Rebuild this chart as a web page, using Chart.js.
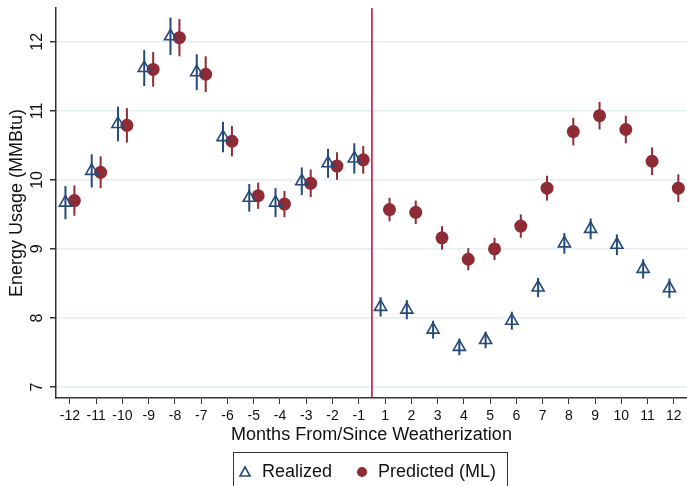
<!DOCTYPE html>
<html>
<head>
<meta charset="utf-8">
<script src="https://cdn.jsdelivr.net/npm/chart.js@4"></script>
<style>
  html, body { margin: 0; padding: 0; background: #fff; }
  #wrap { width: 687px; height: 486px; }
</style>
</head>
<body>
<div id="wrap"><canvas id="usageChart" width="687" height="486"></canvas></div>
<script>
// tick labels along the x axis (there is no month 0)
const months = ['-12','-11','-10','-9','-8','-7','-6','-5','-4','-3','-2','-1',
                '1','2','3','4','5','6','7','8','9','10','11','12'];

// energy usage (MMBtu)
const realized = [9.67, 10.13, 10.81, 11.62, 12.08, 11.56, 10.62, 9.74, 9.67, 9.98, 10.24, 10.31,
                  8.16, 8.12, 7.83, 7.58, 7.68, 7.96, 8.44, 9.08, 9.29, 9.06, 8.71, 8.43];
const realizedErr = [0.24, 0.24, 0.25, 0.26, 0.27, 0.26, 0.22, 0.20, 0.21, 0.20, 0.21, 0.22,
                     0.14, 0.14, 0.13, 0.12, 0.12, 0.13, 0.14, 0.15, 0.15, 0.15, 0.14, 0.14];
const predicted = [9.70, 10.11, 10.79, 11.60, 12.06, 11.53, 10.56, 9.77, 9.65, 9.95, 10.20, 10.29,
                   9.57, 9.53, 9.16, 8.85, 9.00, 9.33, 9.88, 10.70, 10.93, 10.73, 10.27, 9.88];
const predictedErr = [0.22, 0.23, 0.25, 0.25, 0.27, 0.26, 0.22, 0.19, 0.19, 0.20, 0.20, 0.20,
                      0.17, 0.17, 0.17, 0.16, 0.16, 0.17, 0.18, 0.20, 0.20, 0.20, 0.20, 0.20];
const yTicks = [7, 8, 9, 10, 11, 12];

const BLUE = '#24497a';
const RED = '#8e2b35';
const FONT = '"Liberation Sans", Arial, sans-serif';

// points sit a little left / right of each month
const realizedPts = realized.map((v, i) => ({ x: i - 0.17, y: v, err: realizedErr[i] }));
const predictedPts = predicted.map((v, i) => ({ x: i + 0.17, y: v, err: predictedErr[i] }));

// error bars, treatment line and legend box
const extras = {
    id: 'extras',
    beforeDatasetsDraw(chart) {
        const ctx = chart.ctx;
        const xs = chart.scales.x, ys = chart.scales.y;
        ctx.save();
        // weatherization line between -1 and 1
        const xl = xs.getPixelForValue(11.5);
        ctx.strokeStyle = '#c8143c';
        ctx.lineWidth = 1.6;
        ctx.beginPath();
        ctx.moveTo(xl, chart.chartArea.top);
        ctx.lineTo(xl, chart.chartArea.bottom);
        ctx.stroke();
        chart.data.datasets.forEach((ds) => {
            ctx.strokeStyle = ds.borderColor;
            ctx.lineWidth = 2;
            ds.data.forEach((p) => {
                const px = xs.getPixelForValue(p.x);
                ctx.beginPath();
                ctx.moveTo(px, ys.getPixelForValue(p.y - p.err));
                ctx.lineTo(px, ys.getPixelForValue(p.y + p.err));
                ctx.stroke();
            });
        });
        ctx.restore();
    },
    afterDraw(chart) {
        const ctx = chart.ctx;
        const left = 233, top = 452, w = 274, h = 40;
        ctx.save();
        ctx.strokeStyle = '#333';
        ctx.lineWidth = 1;
        ctx.strokeRect(left + 0.5, top + 0.5, w, h);
        ctx.font = '18px ' + FONT;
        ctx.textBaseline = 'middle';
        ctx.fillStyle = '#111';
        const cy = top + 20;
        // triangle
        ctx.strokeStyle = BLUE;
        ctx.lineWidth = 1.6;
        ctx.beginPath();
        ctx.moveTo(245, cy - 5);
        ctx.lineTo(250, cy + 4);
        ctx.lineTo(240, cy + 4);
        ctx.closePath();
        ctx.stroke();
        ctx.fillText(chart.data.datasets[0].label, 262, cy);
        // circle
        ctx.fillStyle = RED;
        ctx.beginPath();
        ctx.arc(362, cy, 5, 0, Math.PI * 2);
        ctx.fill();
        ctx.fillStyle = '#111';
        ctx.fillText(chart.data.datasets[1].label, 378, cy);
        ctx.restore();
    }
};

new Chart(document.getElementById('usageChart').getContext('2d'), {
    type: 'scatter',
    data: {
        datasets: [{
            label: 'Realized',
            data: realizedPts,
            pointStyle: 'triangle',
            pointRadius: 7,
            borderColor: BLUE,
            backgroundColor: 'rgba(0,0,0,0)',
            borderWidth: 1.6
        }, {
            label: 'Predicted (ML)',
            data: predictedPts,
            pointStyle: 'circle',
            pointRadius: 6.5,
            borderColor: RED,
            backgroundColor: RED,
            borderWidth: 0
        }]
    },
    options: {
        responsive: false,
        animation: false,
        layout: { autoPadding: false, padding: { top: 8, right: 0, bottom: 40, left: 0 } },
        plugins: { legend: { display: false }, tooltip: { enabled: false } },
        scales: {
            x: {
                type: 'linear',
                min: -0.53,
                max: 23.5,
                afterBuildTicks: (scale) => { scale.ticks = months.map((_, i) => ({ value: i })); },
                afterFit: (scale) => {
                    scale.height = 48;
                    scale.paddingLeft = 0;
                    scale.paddingRight = 0;
                },
                ticks: {
                    callback: (v) => months[v],
                    font: { family: FONT, size: 14 },
                    color: '#111',
                    maxRotation: 0,
                    autoSkip: false,
                    padding: 4
                },
                grid: { drawOnChartArea: false, drawTicks: true, tickLength: 6, color: '#333' },
                border: { display: true, color: '#333', width: 1.5 },
                title: {
                    display: true,
                    text: 'Months From/Since Weatherization',
                    font: { family: FONT, size: 18 },
                    color: '#111',
                    padding: { top: 0, bottom: 0 }
                }
            },
            y: {
                min: 6.84,
                max: 12.49,
                afterBuildTicks: (scale) => { scale.ticks = yTicks.map((v) => ({ value: v })); },
                afterFit: (scale) => {
                    scale.width = 56;
                    scale.paddingTop = 0;
                    scale.paddingBottom = 0;
                },
                ticks: {
                    font: { family: FONT, size: 16 },
                    color: '#111',
                    minRotation: 90,
                    maxRotation: 90,
                    crossAlign: 'center',
                    padding: 4
                },
                grid: { color: '#e4edf2', lineWidth: 1.5, drawTicks: true, tickLength: 6,
                        tickColor: '#333' },
                border: { display: true, color: '#333', width: 1.5 },
                title: {
                    display: true,
                    text: 'Energy Usage (MMBtu)',
                    font: { family: FONT, size: 18 },
                    color: '#111',
                    padding: { top: 6, bottom: 0 }
                }
            }
        }
    },
    plugins: [extras]
});
</script>
</body>
</html>
